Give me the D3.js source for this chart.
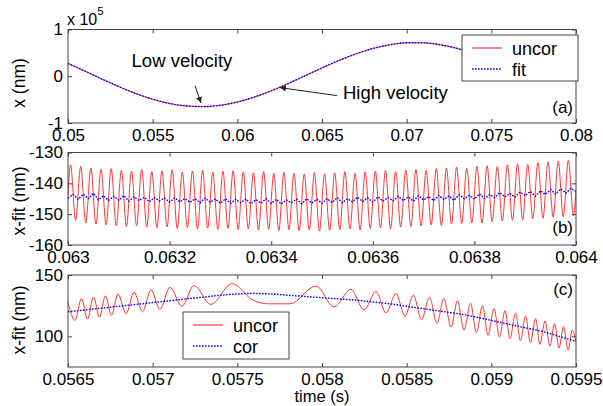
<!DOCTYPE html>
<html>
<head>
<meta charset="utf-8">
<script src="https://d3js.org/d3.v7.min.js"></script>
<style>
	body { margin: 0; background: #fff; }
	svg { font-family: "Liberation Sans", Arial, sans-serif; }
</style>
</head>
<body>
<script>

// ---- panel (a): position, units of 1e5 nm
var aTime = [0.050, 0.051, 0.052, 0.053, 0.054, 0.055, 0.056, 0.057, 0.058, 0.059,
	0.060, 0.061, 0.062, 0.063, 0.064, 0.065, 0.066, 0.067, 0.068, 0.069,
	0.070, 0.071, 0.072, 0.073, 0.074];
var aUncor = [0.275, 0.111, -0.058, -0.221, -0.369, -0.492, -0.583, -0.637, -0.649, -0.620,
	-0.551, -0.446, -0.312, -0.157, 0.010, 0.178, 0.337, 0.479, 0.593, 0.673,
	0.715, 0.715, 0.673, 0.593, 0.479];
var aFit = [0.273, 0.110, -0.060, -0.222, -0.370, -0.491, -0.582, -0.636, -0.650, -0.621,
	-0.552, -0.445, -0.311, -0.158, 0.011, 0.179, 0.336, 0.478, 0.594, 0.672,
	0.716, 0.714, 0.672, 0.594, 0.480];
var aXTicks = [0.05, 0.055, 0.06, 0.065, 0.07, 0.075, 0.08];
var aYTicks = [-1, 0, 1];

// ---- panel (b): residual, sampled every half period of the oscillation
var bStart = 0.063, bEnd = 0.064, bHalfPeriod = 0.00001;
var bEdge = [-144.0, -142.0];
var bPeaks = [-134.0, -134.5, -135.0, -135.5, -135.2, -135.8, -136.0, -135.5, -136.2, -136.0,
	-135.6, -136.3, -136.0, -135.8, -136.4, -136.1, -135.9, -136.3, -136.6, -136.2,
	-136.8, -136.4, -136.7, -137.0, -136.5, -136.9, -136.6, -136.2, -136.8, -136.3,
	-136.0, -135.8, -136.2, -135.7, -135.5, -135.8, -135.2, -135.0, -134.8, -135.1,
	-134.5, -134.3, -134.6, -134.0, -133.7, -133.9, -133.3, -133.0, -132.8, -132.5];
var bTroughs = [-152.0, -152.8, -153.2, -153.5, -153.8, -154.0, -153.7, -154.2, -154.4, -154.1,
	-154.6, -154.3, -154.8, -154.5, -154.9, -154.6, -155.0, -154.8, -155.2, -154.9,
	-155.3, -155.0, -155.4, -155.1, -155.5, -155.2, -155.0, -154.8, -155.1, -154.6,
	-154.4, -154.7, -154.2, -154.0, -153.8, -153.5, -153.7, -153.2, -153.0, -152.8,
	-152.9, -152.4, -152.2, -152.0, -151.8, -151.5, -151.3, -151.0, -150.8, -150.5];
var bCor = [-144.8,
	-143.6, -145.2, -143.5, -145.0, -143.2, -145.4, -144.0, -145.6, -144.2, -145.5,
	-144.0, -145.8, -144.4, -145.6, -144.5, -146.0, -144.6, -145.7, -144.8, -146.1,
	-144.7, -146.0, -144.9, -146.2, -145.0, -146.3, -144.8, -146.1, -145.1, -146.4,
	-145.0, -146.5, -145.2, -146.3, -145.1, -146.6, -145.3, -146.4, -145.0, -146.5,
	-145.2, -146.7, -145.4, -146.3, -145.1, -146.6, -145.0, -146.4, -145.2, -146.5,
	-145.0, -146.2, -144.6, -146.3, -145.0, -146.0, -144.5, -145.9, -144.7, -146.1,
	-144.4, -145.8, -144.6, -145.7, -144.2, -145.6, -144.4, -145.8, -144.0, -145.4,
	-144.3, -145.6, -143.9, -145.2, -144.1, -145.5, -143.7, -145.0, -143.9, -145.1,
	-143.4, -144.9, -143.6, -144.6, -143.0, -144.4, -143.3, -144.5, -142.8, -144.0,
	-142.6, -144.2, -142.4, -143.6, -142.0, -143.5, -141.8, -143.2, -141.6, -142.6];
var bXTicks = [0.063, 0.0632, 0.0634, 0.0636, 0.0638, 0.064];
var bYTicks = [-160, -150, -140, -130];

// ---- panel (c): residual around the turning point
var cUncorTime = [0.056500, 0.056541, 0.056580, 0.056615, 0.056651, 0.056686, 0.056721, 0.056757, 0.056795, 0.056843,
	0.056890, 0.056940, 0.056990, 0.057043, 0.057102, 0.057173, 0.057244, 0.057344, 0.057469, 0.057587,
	0.057681, 0.057811, 0.057965, 0.058071, 0.058171, 0.058248, 0.058319, 0.058378, 0.058437, 0.058490,
	0.058540, 0.058588, 0.058635, 0.058679, 0.058720, 0.058762, 0.058800, 0.058839, 0.058877, 0.058912,
	0.058948, 0.058980, 0.059016, 0.059048, 0.059081, 0.059110, 0.059143, 0.059172, 0.059202, 0.059231,
	0.059261, 0.059287, 0.059317, 0.059346, 0.059373, 0.059400, 0.059426, 0.059453, 0.059479, 0.059500];
var cUncor = [128, 113, 131, 114, 132, 115.5, 133, 117, 134.5, 118.5,
	136, 120, 138, 122, 140, 124.5, 141.5, 126, 143, 130,
	126.5, 126.5, 141, 124, 138.3, 121.5, 136.5, 119, 135, 116.5,
	133.5, 113.5, 132, 110.5, 130.8, 107.5, 129, 105, 127, 103,
	125, 101, 122.8, 99.5, 121, 98, 119, 96.5, 116.5, 95,
	114.5, 93.5, 112.5, 92, 110.5, 90.5, 108, 89, 105, 95];
var cCorTime = [0.0565, 0.0566, 0.0567, 0.0568, 0.0569, 0.0570, 0.0571, 0.0572, 0.0573, 0.0574,
	0.0575, 0.0576, 0.0577, 0.0578, 0.0579, 0.0580, 0.0581, 0.0582, 0.0583, 0.0584,
	0.0585, 0.0586, 0.0587, 0.0588, 0.0589, 0.0590, 0.0591, 0.0592, 0.0593, 0.0594, 0.0595];
var cCor = [120, 121.5, 123, 124.5, 126, 127.5, 129, 130.5, 132, 133.5,
	134.5, 135, 134.5, 133.5, 132.5, 131.5, 130.5, 129.5, 128, 126.5,
	124.5, 122.5, 120.5, 118.5, 116, 113, 110, 107, 104, 100, 96];
var cXTicks = [0.0565, 0.057, 0.0575, 0.058, 0.0585, 0.059, 0.0595];
var cYTicks = [100, 150];


var svg = d3.select('body').append('svg')
	.attr('width', 603)
	.attr('height', 406);

svg.append('defs').append('marker')
	.attr('id', 'arrow')
	.attr('viewBox', '0 0 10 10')
	.attr('refX', 10).attr('refY', 5)
	.attr('markerWidth', 6).attr('markerHeight', 6)
	.attr('orient', 'auto')
	.append('path')
	.attr('d', 'M0,0 L10,5 L0,10 z')
	.attr('fill', '#222');

var RED = '#ff3535', BLUE = '#0000ff', FRAME = '#444';

function fmt(d){ return String(+d.toFixed(6)); }

function zip(ts, vs){
	return ts.map(function(t, i){ return {t: t, v: vs[i]}; });
}

function panel(name, top, bottom, xDomain, yDomain, xTicks, yTicks){
	var x = d3.scaleLinear().domain(xDomain).range([68, 576]);
	var y = d3.scaleLinear().domain(yDomain).range([bottom, top]);
	var g = svg.append('g');

	svg.select('defs').append('clipPath').attr('id', 'clip-' + name)
		.append('rect')
		.attr('x', 68).attr('y', top)
		.attr('width', 508).attr('height', bottom - top);

	var plot = g.append('g').attr('clip-path', 'url(#clip-' + name + ')');

	var axes = [
		[d3.axisBottom(x).tickValues(xTicks).tickFormat(fmt), 'translate(0,' + bottom + ')', 6],
		[d3.axisTop(x).tickValues(xTicks).tickFormat(''), 'translate(0,' + top + ')', 0],
		[d3.axisLeft(y).tickValues(yTicks).tickFormat(fmt), 'translate(68,0)', 5],
		[d3.axisRight(y).tickValues(yTicks).tickFormat(''), 'translate(576,0)', 0]
	];
	axes.forEach(function(a){
		var ax = g.append('g').attr('transform', a[1])
			.call(a[0].tickSize(-4).tickPadding(a[2]));
		ax.select('.domain').remove();
		ax.selectAll('line').attr('stroke', FRAME);
		ax.selectAll('text').attr('fill', '#000').style('font-size', '17px');
	});

	return {g: g, plot: plot, x: x, y: y, top: top, bottom: bottom};
}

function frame(p){
	p.g.append('rect')
		.attr('x', 68).attr('y', p.top)
		.attr('width', 508).attr('height', p.bottom - p.top)
		.attr('fill', 'none').attr('stroke', FRAME);
}

function addLine(p, data, color, dotted, curve){
	var line = d3.line()
		.x(function(d){ return p.x(d.t); })
		.y(function(d){ return p.y(d.v); })
		.curve(curve || d3.curveLinear);
	p.plot.append('path')
		.datum(data)
		.attr('d', line)
		.attr('fill', 'none')
		.attr('stroke', color)
		.attr('stroke-width', dotted ? 1.4 : 1)
		.attr('stroke-dasharray', dotted ? '1.6,1.4' : null);
}

function legend(x0, y0, w, h, items){
	var lg = svg.append('g').attr('transform', 'translate(' + x0 + ',' + y0 + ')');
	lg.append('rect').attr('width', w).attr('height', h)
		.attr('fill', '#fff').attr('stroke', FRAME);
	items.forEach(function(it, i){
		var yy = 13 + i * 21;
		lg.append('line')
			.attr('x1', 10).attr('x2', 40).attr('y1', yy).attr('y2', yy)
			.attr('stroke', it.color)
			.attr('stroke-width', it.dotted ? 1.4 : 1.2)
			.attr('stroke-dasharray', it.dotted ? '1.6,1.4' : null);
		lg.append('text')
			.attr('x', 50).attr('y', yy + 6.5)
			.style('font-size', '18px')
			.text(it.label);
	});
}

function yLabel(text, cy){
	svg.append('text')
		.attr('transform', 'translate(25,' + cy + ') rotate(-90)')
		.attr('text-anchor', 'middle')
		.style('font-size', '17.5px')
		.text(text);
}

function tag(text, yBase){
	svg.append('text')
		.attr('x', 573).attr('y', yBase)
		.attr('text-anchor', 'end')
		.style('font-size', '17px')
		.text(text);
}

function arrow(p, from, to){
	p.g.append('line')
		.attr('x1', p.x(from[0])).attr('y1', p.y(from[1]))
		.attr('x2', p.x(to[0])).attr('y2', p.y(to[1]))
		.attr('stroke', '#222').attr('stroke-width', 1)
		.attr('marker-end', 'url(#arrow)');
}

// ---------- (a)
var pa = panel('a', 29.5, 123, [0.05, 0.08], [-1, 1], aXTicks, aYTicks);
addLine(pa, zip(aTime, aUncor), RED, false, d3.curveMonotoneX);
addLine(pa, zip(aTime, aFit), BLUE, true, d3.curveMonotoneX);
frame(pa);

var exp = svg.append('text').attr('x', 67).attr('y', 25).style('font-size', '16px');
exp.append('tspan').text('x 10');
exp.append('tspan').attr('dy', -10).style('font-size', '11.5px').text('5');

arrow(pa, [0.0575, -0.2], [0.05785, -0.57]);
pa.g.append('text')
	.attr('x', pa.x(0.05673)).attr('y', pa.y(0.19))
	.attr('text-anchor', 'middle')
	.style('font-size', '18.5px')
	.text('Low velocity');
arrow(pa, [0.06589, -0.415], [0.06252, -0.243]);
pa.g.append('text')
	.attr('x', pa.x(0.06624)).attr('y', pa.y(-0.48))
	.style('font-size', '18.5px')
	.text('High velocity');

legend(462, 35, 116, 46, [
	{label: 'uncor', color: RED},
	{label: 'fit', color: BLUE, dotted: true}
]);
yLabel('x (nm)', 83);
tag('(a)', 113);

// ---------- (b)
var bRed = [{t: bStart, v: bEdge[0]}];
bPeaks.forEach(function(pk, k){
	bRed.push({t: bStart + (2 * k + 0.5) * bHalfPeriod, v: pk});
	bRed.push({t: bStart + (2 * k + 1.5) * bHalfPeriod, v: bTroughs[k]});
});
bRed.push({t: bEnd, v: bEdge[1]});
var bBlue = bCor.map(function(v, i){ return {t: bStart + i * bHalfPeriod, v: v}; });

var pb = panel('b', 152.5, 245, [0.063, 0.064], [-160, -130], bXTicks, bYTicks);
addLine(pb, bRed, RED, false, d3.curveMonotoneX);
addLine(pb, bBlue, BLUE, true, d3.curveLinear);
frame(pb);
yLabel('x-fit (nm)', 201);
tag('(b)', 233);

// ---------- (c)
var pc = panel('c', 275, 367, [0.0565, 0.0595], [75, 150], cXTicks, cYTicks);
addLine(pc, zip(cUncorTime, cUncor), RED, false, d3.curveMonotoneX);
addLine(pc, zip(cCorTime, cCor), BLUE, true, d3.curveMonotoneX);
frame(pc);
legend(183, 312, 106, 47, [
	{label: 'uncor', color: RED},
	{label: 'cor', color: BLUE, dotted: true}
]);
yLabel('x-fit (nm)', 320);
tag('(c)', 295);

svg.append('text')
	.attr('x', 322).attr('y', 402)
	.attr('text-anchor', 'middle')
	.style('font-size', '16.5px')
	.text('time (s)');

</script>
</body>
</html>
